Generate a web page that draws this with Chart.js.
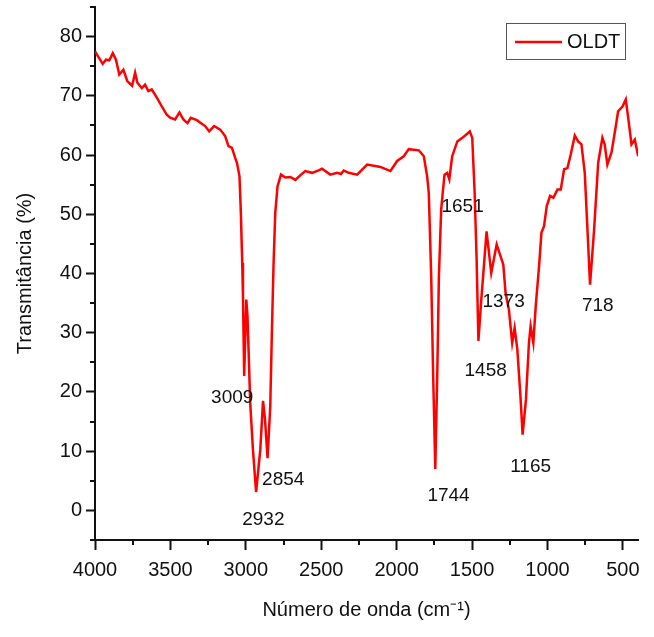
<!DOCTYPE html>
<html>
<head>
<meta charset="utf-8">
<script src="https://cdn.jsdelivr.net/npm/chart.js@4.4.0/dist/chart.umd.min.js"></script>
<style>
  html, body { margin: 0; padding: 0; background: #fff; }
</style>
</head>
<body>
<canvas id="myChart" width="654" height="637"></canvas>
<script>
/* globals Chart:false */

// wavenumber (cm-1) and transmittance (%)
const waveNumbers = [
  4000, 3993, 3949, 3927, 3905, 3882, 3861, 3839, 3812, 3786,
  3754, 3734, 3719, 3690, 3668, 3646, 3624, 3590, 3557, 3524,
  3502, 3469, 3440, 3414, 3387, 3365, 3325, 3270, 3243, 3210,
  3170, 3137, 3115, 3092, 3070, 3059, 3042, 3033, 3024, 3019,
  3011, 2997, 2989, 2971, 2953, 2932, 2904, 2886, 2873, 2856,
  2838, 2827, 2816, 2805, 2790, 2767, 2738, 2705, 2672, 2634,
  2606, 2561, 2517, 2495, 2440, 2395, 2369, 2351, 2318, 2262,
  2196, 2152, 2108, 2041, 1997, 1953, 1920, 1886, 1853, 1820,
  1798, 1787, 1771, 1758, 1744, 1731, 1720, 1705, 1683, 1665,
  1651, 1632, 1598, 1565, 1532, 1515, 1499, 1483, 1470, 1458,
  1439, 1404, 1373, 1337, 1311, 1293, 1278, 1256, 1234, 1218,
  1200, 1178, 1165, 1143, 1123, 1112, 1094, 1078, 1056, 1040,
  1023, 1005, 983, 961, 934, 912, 890, 868, 846, 819,
  797, 775, 753, 735, 718, 691, 664, 636, 621, 603,
  576, 547, 532, 503, 481, 466, 443, 421, 399
]
const transmittance = [
  77.5, 77.2, 75.4, 76.1, 76.0, 77.2, 76.1, 73.6, 74.4, 72.5,
  71.7, 73.9, 72.2, 71.3, 71.9, 70.8, 71.1, 69.7, 68.2, 66.8,
  66.3, 66.0, 67.2, 66.0, 65.4, 66.3, 65.9, 64.9, 64.0, 64.9,
  64.3, 63.2, 61.5, 61.2, 59.5, 58.7, 56.4, 50.2, 41.8, 36.2,
  22.7, 35.6, 32.8, 18.2, 10.3, 3.1, 10.3, 18.5, 15.4, 8.8,
  17.6, 30.5, 41.8, 50.2, 54.7, 56.7, 56.2, 56.3, 55.8, 56.7,
  57.3, 57.0, 57.4, 57.7, 56.7, 57.0, 56.8, 57.4, 57.0, 56.7,
  58.4, 58.2, 58.0, 57.3, 59.0, 59.8, 61.0, 60.9, 60.8, 59.8,
  56.4, 53.6, 39.5, 22.7, 7.0, 22.7, 39.5, 50.8, 56.7, 57.0,
  55.9, 59.8, 62.3, 62.9, 63.6, 64.0, 62.9, 53.6, 42.4, 28.6,
  35.6, 47.1, 40.1, 44.9, 42.9, 41.5, 36.7, 33.9, 28.3, 30.8,
  27.2, 18.7, 12.8, 18.7, 28.3, 31.1, 28.3, 34.5, 41.2, 46.9,
  48.0, 51.4, 53.1, 52.8, 54.2, 54.2, 57.6, 57.8, 60.1, 63.3,
  62.3, 61.8, 57.0, 47.4, 38.1, 47.4, 58.7, 62.9, 61.8, 58.4,
  60.4, 64.9, 67.4, 68.2, 69.4, 66.5, 61.8, 62.6, 59.8
]

// band labels and where their text sits (data units)
const peakLabels = ['3009', '2932', '2854', '1744', '1651', '1458', '1373', '1165', '718']
const peakTextX = [3090, 2884, 2752, 1656, 1563, 1410, 1291, 1112, 667]
const peakTextY = [19.1, -1.5, 5.1, 2.4, 51.3, 23.6, 35.3, 7.4, 34.6]

const xTicks = [4000, 3500, 3000, 2500, 2000, 1500, 1000, 500]
const xMinor = [3750, 3250, 2750, 2250, 1750, 1250, 750]
const yTicks = [0, 10, 20, 30, 40, 50, 60, 70, 80]
const yMinor = [-5, 5, 15, 25, 35, 45, 55, 65, 75, 85]

const seriesName = 'OLDT'
const FONT = "'Liberation Sans', Arial, sans-serif"

const extras = {
  id: 'extras',
  afterDraw(chart) {
    const { ctx, chartArea: a, scales: { x, y } } = chart
    ctx.save()
    // minor ticks
    ctx.strokeStyle = '#111'
    ctx.lineWidth = 2
    ctx.beginPath()
    xMinor.forEach(v => {
      const px = Math.round(x.getPixelForValue(v))
      ctx.moveTo(px, a.bottom)
      ctx.lineTo(px, a.bottom + 5)
    })
    yMinor.forEach(v => {
      const py = Math.round(y.getPixelForValue(v))
      ctx.moveTo(a.left, py)
      ctx.lineTo(a.left - 5, py)
    })
    ctx.stroke()

    // peak labels
    ctx.fillStyle = '#111'
    ctx.font = '19px ' + FONT
    ctx.textAlign = 'center'
    ctx.textBaseline = 'middle'
    peakLabels.forEach((t, i) => {
      ctx.fillText(t, x.getPixelForValue(peakTextX[i]), y.getPixelForValue(peakTextY[i]))
    })

    // legend box
    const ds = chart.data.datasets[0]
    const bx = a.right - 132, by = a.top + 16, bw = 119, bh = 36
    ctx.strokeStyle = '#555'
    ctx.lineWidth = 1
    ctx.strokeRect(bx + 0.5, by + 0.5, bw, bh)
    ctx.strokeStyle = ds.borderColor
    ctx.lineWidth = 2.5
    ctx.beginPath()
    ctx.moveTo(bx + 9, by + 19)
    ctx.lineTo(bx + 56, by + 19)
    ctx.stroke()
    ctx.textAlign = 'left'
    ctx.font = '20px ' + FONT
    ctx.fillText(ds.label, bx + 61, by + 19)
    ctx.restore()
  }
}

const ctx = document.getElementById('myChart')
const myChart = new Chart(ctx, {
  type: 'line',
  data: {
    datasets: [{
      label: seriesName,
      data: waveNumbers.map((w, i) => ({ x: w, y: transmittance[i] })),
      borderColor: '#ff0000',
      borderWidth: 2.5,
      pointRadius: 0,
      tension: 0,
      fill: false
    }]
  },
  options: {
    responsive: false,
    animation: false,
    layout: { padding: { top: 7, right: 16, left: 0, bottom: 0 } },
    plugins: {
      legend: { display: false },
      tooltip: { enabled: false }
    },
    scales: {
      x: {
        type: 'linear',
        reverse: true,
        min: 400,
        max: 4000,
        afterBuildTicks: axis => { axis.ticks = xTicks.map(v => ({ value: v })) },
        afterFit: scale => {
          scale.height = 97
          scale.paddingLeft = 0
          scale.paddingRight = 0
        },
        grid: { drawOnChartArea: false, tickLength: 10, tickWidth: 2, tickColor: '#111' },
        border: { color: '#111', width: 2 },
        ticks: { color: '#111', font: { family: FONT, size: 20 }, padding: 8, maxRotation: 0, callback: v => String(v) },
        title: {
          display: true,
          text: 'Número de onda (cm⁻¹)',
          color: '#111',
          font: { family: FONT, size: 20 },
          padding: { top: 0, bottom: 15 }
        }
      },
      y: {
        min: -5,
        max: 85,
        afterBuildTicks: axis => { axis.ticks = yTicks.map(v => ({ value: v })) },
        afterFit: scale => {
          scale.width = 95
          scale.paddingTop = 0
          scale.paddingBottom = 0
        },
        grid: { drawOnChartArea: false, tickLength: 9, tickWidth: 2, tickColor: '#111' },
        border: { color: '#111', width: 2 },
        ticks: { color: '#111', font: { family: FONT, size: 20 }, padding: 4, callback: v => String(v) },
        title: {
          display: true,
          text: 'Transmitância (%)',
          color: '#111',
          font: { family: FONT, size: 20 },
          padding: { top: 13, bottom: 0 }
        }
      }
    }
  },
  plugins: [extras]
})
</script>
</body>
</html>
